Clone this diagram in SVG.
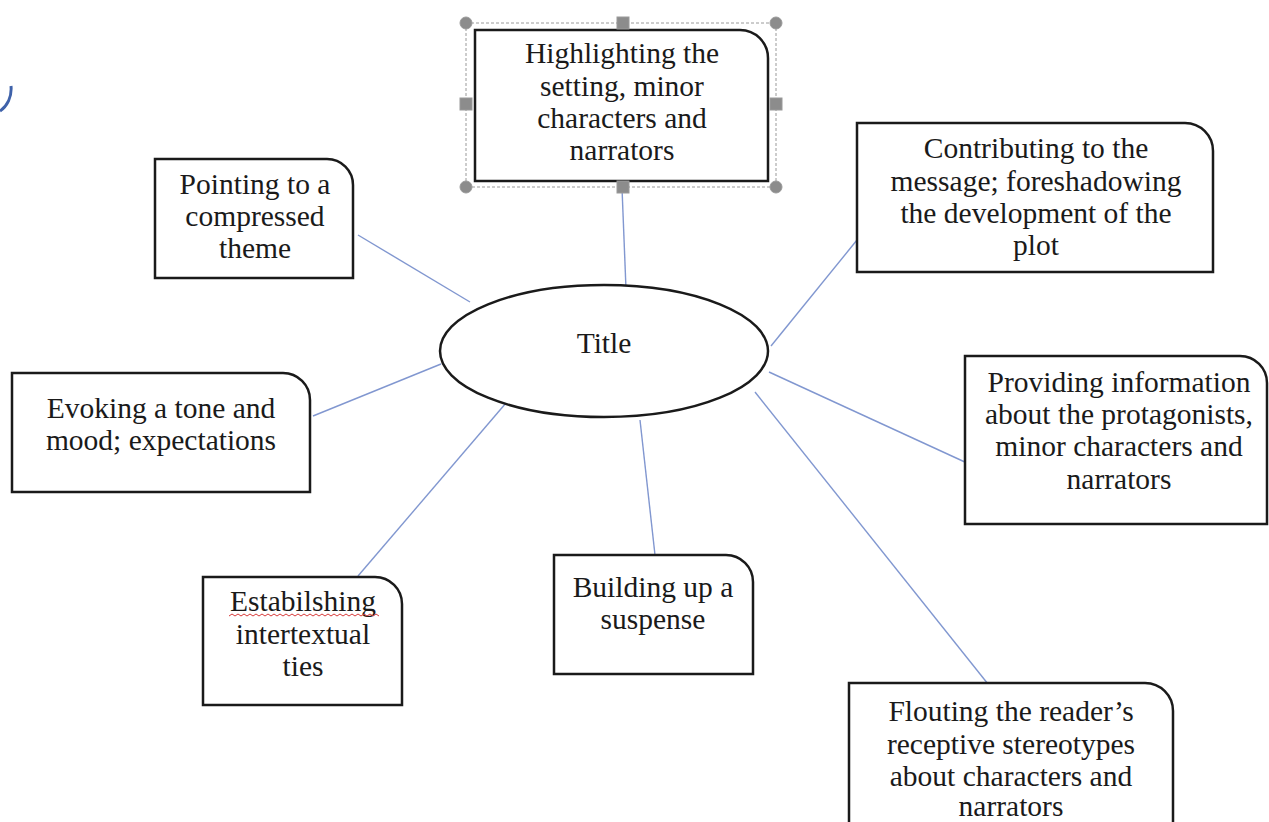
<svg xmlns="http://www.w3.org/2000/svg" width="1269" height="822" viewBox="0 0 1269 822">
<style>
.box{fill:#fff;stroke:#1a1a1a;stroke-width:2.5}
.t{font-family:"Liberation Serif","Times New Roman",serif;font-size:29.5px;fill:#1a1a1a;text-anchor:middle}
.c{stroke:#8197d0;stroke-width:1.4;fill:none}
.h{fill:#8c8c8c;stroke:#9a9a9a;stroke-width:1}
</style>
<rect width="1269" height="822" fill="#fff"/>
<path d="M11 86 C12 97 7 106 0 111" fill="none" stroke="#3f62aa" stroke-width="3"/>
<g id="connectors">
<line class="c" x1="622" y1="188" x2="626" y2="289"/>
<line class="c" x1="358" y1="235" x2="470" y2="302"/>
<line class="c" x1="857" y1="240" x2="771" y2="346"/>
<line class="c" x1="313" y1="416" x2="441" y2="364"/>
<line class="c" x1="769" y1="372" x2="967" y2="463"/>
<line class="c" x1="358" y1="576" x2="506" y2="403"/>
<line class="c" x1="640" y1="420" x2="655" y2="555"/>
<line class="c" x1="755" y1="392" x2="988" y2="684"/>
</g>
<g id="title">
<ellipse cx="604" cy="351" rx="164" ry="66" fill="#fff" stroke="#1a1a1a" stroke-width="2.5"/>
<text class="t" x="604" y="353">Title</text>
</g>
<g id="highlighting">
<rect x="466" y="23" width="310" height="164" fill="none" stroke="#9a9a9a" stroke-width="1" stroke-dasharray="3,2"/>
<path class="box" d="M475 30 H740 A28 28 0 0 1 768 58 V181 H475 Z"/>
<text class="t" x="622" y="63">Highlighting the</text>
<text class="t" x="622" y="96">setting, minor</text>
<text class="t" x="622" y="128">characters and</text>
<text class="t" x="622" y="160">narrators</text>
<circle class="h" cx="466" cy="23" r="6"/>
<circle class="h" cx="776" cy="23" r="6"/>
<circle class="h" cx="466" cy="187" r="6"/>
<circle class="h" cx="776" cy="187" r="6"/>
<rect class="h" x="617" y="17" width="12" height="12"/>
<rect class="h" x="617" y="181" width="12" height="12"/>
<rect class="h" x="460" y="98" width="12" height="12"/>
<rect class="h" x="770" y="98" width="12" height="12"/>
</g>
<g id="pointing">
<path class="box" d="M155 159 H327 A26 26 0 0 1 353 185 V278 H155 Z"/>
<text class="t" x="255" y="194">Pointing to a</text>
<text class="t" x="255" y="226">compressed</text>
<text class="t" x="255" y="258">theme</text>
</g>
<g id="contributing">
<path class="box" d="M857 123 H1185 A28 28 0 0 1 1213 151 V272 H857 Z"/>
<text class="t" x="1036" y="158">Contributing to the</text>
<text class="t" x="1036" y="191">message; foreshadowing</text>
<text class="t" x="1036" y="223">the development of the</text>
<text class="t" x="1036" y="255">plot</text>
</g>
<g id="evoking">
<path class="box" d="M12 373 H283 A27 27 0 0 1 310 400 V492 H12 Z"/>
<text class="t" x="161" y="418">Evoking a tone and</text>
<text class="t" x="161" y="450">mood; expectations</text>
</g>
<g id="providing">
<path class="box" d="M965 356 H1240 A27 27 0 0 1 1267 383 V524 H965 Z"/>
<text class="t" x="1119" y="392">Providing information</text>
<text class="t" x="1119" y="424">about the protagonists,</text>
<text class="t" x="1119" y="456">minor characters and</text>
<text class="t" x="1119" y="489">narrators</text>
</g>
<g id="estabilshing">
<path class="box" d="M203 577 H375 A27 27 0 0 1 402 604 V705 H203 Z"/>
<text class="t" x="303" y="611">Estabilshing</text>
<path d="M229 616 l3 -2 l3 2 l3 -2 l3 2 l3 -2 l3 2 l3 -2 l3 2 l3 -2 l3 2 l3 -2 l3 2 l3 -2 l3 2 l3 -2 l3 2 l3 -2 l3 2 l3 -2 l3 2 l3 -2 l3 2 l3 -2 l3 2 l3 -2 l3 2 l3 -2 l3 2 l3 -2 l3 2 l3 -2 l3 2 l3 -2 l3 2 l3 -2 l3 2 l3 -2 l3 2 l3 -2 l3 2 l3 -2 l3 2 l3 -2 l3 2 l3 -2 l3 2 l3 -2 l3 2 l3 -2 l3 2" fill="none" stroke="#d83a3a" stroke-width="1"/>
<text class="t" x="303" y="644">intertextual</text>
<text class="t" x="303" y="676">ties</text>
</g>
<g id="building">
<path class="box" d="M554 555 H726 A27 27 0 0 1 753 582 V674 H554 Z"/>
<text class="t" x="653" y="597">Building up a</text>
<text class="t" x="653" y="629">suspense</text>
</g>
<g id="flouting">
<path class="box" d="M849 683 H1145 A28 28 0 0 1 1173 711 V830 H849 Z"/>
<text class="t" x="1011" y="721">Flouting the reader’s</text>
<text class="t" x="1011" y="754">receptive stereotypes</text>
<text class="t" x="1011" y="786">about characters and</text>
<text class="t" x="1011" y="816">narrators</text>
</g>
</svg>
